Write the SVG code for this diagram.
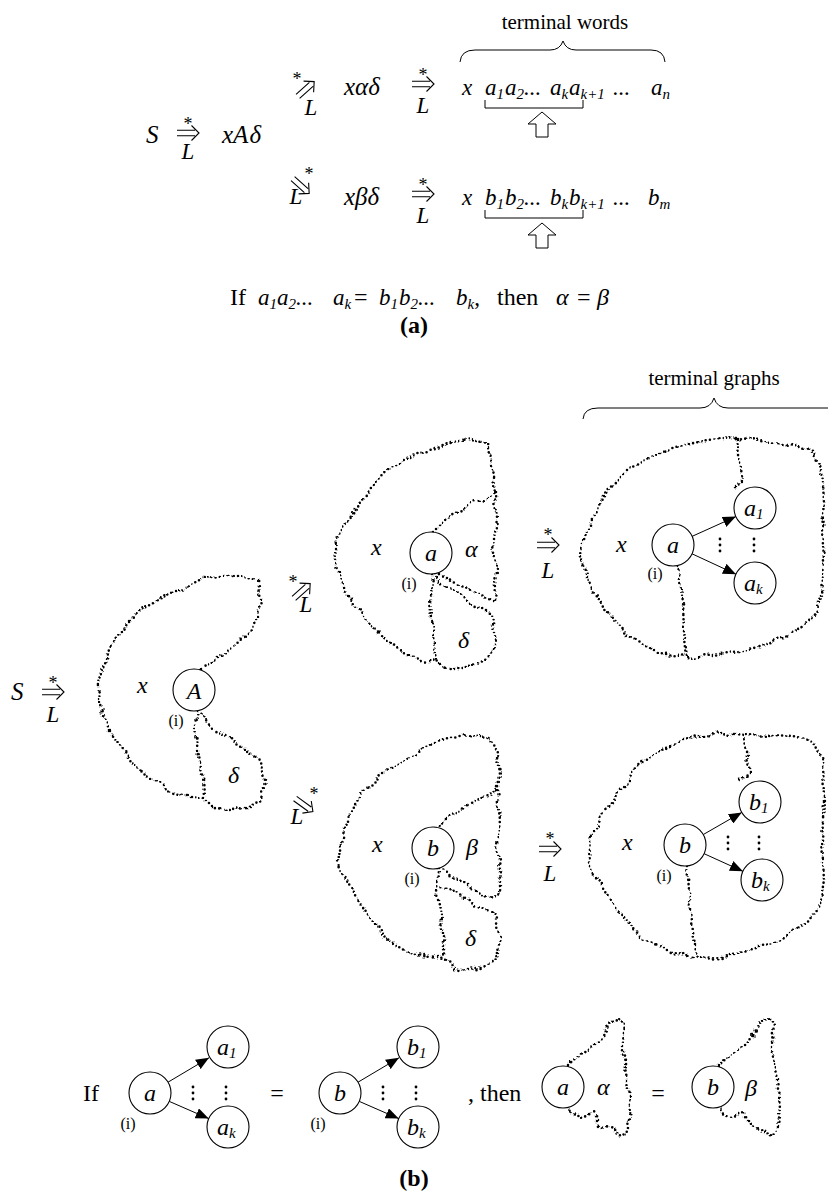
<svg xmlns="http://www.w3.org/2000/svg" xmlns:xlink="http://www.w3.org/1999/xlink" width="828" height="1193" viewBox="0 0 828 1193">
<style>
.m{font-family:"Liberation Serif",serif;font-size:23px;font-style:italic;fill:#000}
.mb{font-family:"Liberation Serif",serif;font-size:25px;font-style:italic;fill:#000}
.n{font-family:"Liberation Serif",serif;font-size:24px;font-style:italic;fill:#000}
.r{font-family:"Liberation Serif",serif;font-size:24px;fill:#000}
.s{font-size:15px}
.lb{font-family:"Liberation Serif",serif;font-size:21px;fill:#000}
.ii{font-family:"Liberation Serif",serif;font-size:16px;fill:#000;text-anchor:middle}
.st{font-family:"Liberation Serif",serif;font-size:18px;fill:#000;text-anchor:middle}
.L{font-family:"Liberation Serif",serif;font-size:23px;font-style:italic;fill:#000;text-anchor:middle}
.c{text-anchor:middle}
.bf{font-family:"Liberation Serif",serif;font-size:24px;font-weight:bold;fill:#000;text-anchor:middle}
.ln{fill:none;stroke:#000;stroke-width:1}
.dot{fill:none;stroke:#000;stroke-width:2.6;stroke-linecap:round;stroke-linejoin:round;stroke-dasharray:0 4.3}
.nd circle{fill:#fff;stroke:#000;stroke-width:1.1}
.ed{fill:none;stroke:#000;stroke-width:1;marker-end:url(#ah)}
.vd{fill:#000}
</style>
<defs>
<marker id="ah" viewBox="0 0 12 10" refX="12" refY="5" markerWidth="13" markerHeight="11" orient="auto" markerUnits="userSpaceOnUse"><path d="M0,0 L12,5 L0,10 Z" fill="#000"/></marker>
<g id="dar"><path d="M-11,-2.7 H7 M-11,2.7 H7 M3.5,-7.5 L11,0 L3.5,7.5" fill="none" stroke="#000" stroke-width="1.1"/></g>
<path id="hol" d="M0,0 L14,12 L6,12 L6,25 L-6,25 L-6,12 L-14,12 Z" fill="#fff" stroke="#000" stroke-width="1"/>
<filter id="wob" x="-10%" y="-10%" width="120%" height="120%">
<feTurbulence type="fractalNoise" baseFrequency="0.09" numOctaves="1" seed="5" result="n"/>
<feDisplacementMap in="SourceGraphic" in2="n" scale="8.5" xChannelSelector="R" yChannelSelector="G"/>
</filter>
</defs>
<rect width="828" height="1193" fill="#fff"/>

<g id="part-a">
<text class="lb c" x="565" y="29">terminal words</text>
<path class="ln" d="M460,62 Q461,50 475,50 L550,50 Q560,50 563,41 Q566,50 576,50 L651,50 Q664,50 665,62"/>
<text class="mb" x="146" y="143">S</text>
<use xlink:href="#dar" transform="translate(188,133)"/>
<text class="st" x="188" y="130">*</text>
<text class="L" x="188" y="159">L</text>
<text class="mb" x="222" y="143">xA<tspan dx="1">δ</tspan></text>

<use xlink:href="#dar" transform="translate(306,89) rotate(-42)"/>
<text class="st" x="297" y="85">*</text>
<text class="L" x="311" y="115">L</text>
<text class="mb" x="344" y="95">xαδ</text>
<use xlink:href="#dar" transform="translate(423,84)"/>
<text class="st" x="423" y="81">*</text>
<text class="L" x="423" y="113">L</text>
<text class="m" y="95"><tspan x="462">x</tspan><tspan x="485">a</tspan><tspan class="s" dy="4">1</tspan><tspan x="505" dy="-4">a</tspan><tspan class="s" dy="4">2</tspan><tspan x="524" dy="-4">...</tspan><tspan x="550">a</tspan><tspan class="s" dy="4">k</tspan><tspan x="569" dy="-4">a</tspan><tspan class="s" dy="4">k+1</tspan><tspan x="613" dy="-4">...</tspan><tspan x="651">a</tspan><tspan class="s" dy="4">n</tspan></text>
<path class="ln" d="M485,100 V108 H583 V100"/>
<use xlink:href="#hol" x="542" y="112"/>

<use xlink:href="#dar" transform="translate(301,186) rotate(42)"/>
<text class="st" x="309" y="180">*</text>
<text class="L" x="296" y="204">L</text>
<text class="mb" x="344" y="205">xβδ</text>
<use xlink:href="#dar" transform="translate(423,194)"/>
<text class="st" x="423" y="191">*</text>
<text class="L" x="423" y="223">L</text>
<text class="m" y="205"><tspan x="462">x</tspan><tspan x="485">b</tspan><tspan class="s" dy="4">1</tspan><tspan x="505" dy="-4">b</tspan><tspan class="s" dy="4">2</tspan><tspan x="524" dy="-4">...</tspan><tspan x="550">b</tspan><tspan class="s" dy="4">k</tspan><tspan x="569" dy="-4">b</tspan><tspan class="s" dy="4">k+1</tspan><tspan x="613" dy="-4">...</tspan><tspan x="648">b</tspan><tspan class="s" dy="4">m</tspan></text>
<path class="ln" d="M485,210 V218 H583 V210"/>
<use xlink:href="#hol" x="542" y="223"/>

<text class="r" x="230" y="305">If</text>
<text class="m" y="305"><tspan x="258">a</tspan><tspan class="s" dy="4">1</tspan><tspan x="277" dy="-4">a</tspan><tspan class="s" dy="4">2</tspan><tspan x="296" dy="-4">...</tspan><tspan x="333">a</tspan><tspan class="s" dy="4">k</tspan></text>
<text class="r" x="354" y="305">=</text>
<text class="m" y="305"><tspan x="379">b</tspan><tspan class="s" dy="4">1</tspan><tspan x="399" dy="-4">b</tspan><tspan class="s" dy="4">2</tspan><tspan x="418" dy="-4">...</tspan><tspan x="456">b</tspan><tspan class="s" dy="4">k</tspan><tspan dy="-4" style="font-style:normal">,</tspan></text>
<text class="r" x="497" y="305">then</text>
<text class="n" x="556" y="305">α</text>
<text class="r" x="577" y="305">=</text>
<text class="n" x="597" y="305">β</text>
<text class="bf" x="414" y="333">(a)</text>
</g>

<g id="labels-b">
<text class="lb c" x="714" y="385">terminal graphs</text>
<path class="ln" d="M583,419 Q584,408 598,408 L700,408 Q711,408 714,398 Q717,408 728,408 L830,408"/>
<text class="mb" x="11" y="700">S</text>
<use xlink:href="#dar" transform="translate(53,692)"/>
<text class="st" x="53" y="689">*</text>
<text class="L" x="53" y="722">L</text>
<use xlink:href="#dar" transform="translate(302,591) rotate(-42)"/>
<text class="st" x="293" y="588">*</text>
<text class="L" x="306" y="612">L</text>
<use xlink:href="#dar" transform="translate(304,805) rotate(36)"/>
<text class="st" x="314" y="800">*</text>
<text class="L" x="297" y="824">L</text>
<use xlink:href="#dar" transform="translate(548,545)"/>
<text class="st" x="548" y="541">*</text>
<text class="L" x="548" y="578">L</text>
<use xlink:href="#dar" transform="translate(550,849)"/>
<text class="st" x="550" y="845">*</text>
<text class="L" x="550" y="881">L</text>
<text class="n" x="137" y="693">x</text>
<text class="n" x="228" y="783">δ</text>
<text class="n" x="371" y="555">x</text>
<text class="n" x="465" y="557">α</text>
<text class="n" x="458" y="648">δ</text>
<text class="n" x="616" y="552">x</text>
<text class="n" x="372" y="852">x</text>
<text class="n" x="466" y="855">β</text>
<text class="n" x="465" y="946">δ</text>
<text class="n" x="622" y="850">x</text>
<text class="r" x="83" y="1101">If</text>
<text class="r c" x="277" y="1101">=</text>
<text class="r" x="468" y="1101">, then</text>
<text class="r c" x="658" y="1101">=</text>
<text class="n" x="597" y="1095">α</text>
<text class="n" x="745" y="1096">β</text>
<text class="bf" x="414" y="1186">(b)</text>
</g>

<g id="regions" filter="url(#wob)">
<path class="dot" d="M200,670 L215,660 L233,648 L250,632 L258,615 L260,598 L257,580 L240,576 L220,576 L203,578 L185,588 L165,597 L140,610 L125,628 L112,645 L100,670 L98,700 L105,722 L115,740 L130,760 L148,778 L170,792 L190,797 L203,798 L213,808 L230,809 L248,808 L262,800 L265,780 L258,760 L245,748 L228,738 L212,728 L198,712"/>
<path class="dot" d="M197,712 L194,730 L198,750 L202,775 L203,798"/>
<path class="dot" d="M433,532 L445,520 L460,510 L475,502 L490,497 L496,493 L493,470 L488,443 L470,440 L450,442 L430,450 L410,457 L390,468 L370,490 L352,515 L338,535 L334,560 L342,585 L357,607 L375,630 L398,650 L420,660 L437,662 L445,668 L462,668 L480,663 L494,652 L494,633 L492,614 L480,608 L466,600 L452,590 L440,583 L434,575"/>
<path class="dot" d="M496,493 L497,520 L493,547 L497,570 L495,602 L480,595 L467,588 L452,580 L436,574"/>
<path class="dot" d="M433,575 L431,595 L432,620 L435,645 L437,662"/>
<path class="dot" d="M435,827 L457,813 L477,800 L497,792 L500,775 L498,755 L490,737 L470,735 L450,737 L430,745 L413,757 L395,765 L380,775 L365,790 L352,810 L342,837 L338,863 L350,887 L367,913 L383,937 L410,953 L443,958 L457,970 L477,968 L497,960 L500,937 L493,913 L477,905 L457,893 L438,886"/>
<path class="dot" d="M497,792 L500,820 L497,845 L500,870 L500,893 L483,897 L470,887 L457,880 L440,869"/>
<path class="dot" d="M438,869 L437,893 L443,927 L443,958"/>
<path class="dot" d="M587,577 L580,553 L588,528 L600,503 L612,485 L627,470 L645,460 L660,453 L685,445 L707,440 L737,438 L760,440 L777,443 L800,447 L815,455 L822,470 L824,500 L822,530 L824,560 L822,595 L813,617 L793,633 L760,647 L727,653 L693,658 L660,653 L627,637 L603,607 Z"/>
<path class="dot" d="M678,566 L683,603 L684,630 L687,658"/>
<path class="dot" d="M737,438 L740,463 L742,477 L733,490"/>
<path class="dot" d="M597,877 L588,863 L592,835 L603,815 L613,803 L625,783 L640,763 L660,750 L683,740 L720,733 L747,735 L793,737 L815,743 L823,760 L824,800 L822,840 L824,880 L820,905 L807,923 L773,943 L723,957 L697,958 L673,953 L640,937 L617,910 Z"/>
<path class="dot" d="M687,867 L690,900 L693,930 L697,958"/>
<path class="dot" d="M743,735 L747,757 L750,773 L737,783"/>
<path class="dot" d="M568,1066 L580,1055 L595,1045 L605,1033 L610,1022 L618,1017 L625,1025 L623,1040 L623,1057 L627,1080 L630,1107 L628,1127 L622,1137 L613,1130 L600,1127 L593,1113 L580,1117 L568,1108"/>
<path class="dot" d="M718,1066 L730,1055 L745,1045 L755,1033 L760,1022 L768,1017 L775,1025 L773,1040 L773,1057 L777,1080 L780,1107 L778,1127 L772,1137 L763,1130 L750,1127 L743,1113 L730,1117 L718,1108"/>
</g>

<g id="edges">
<path class="ed" d="M692,536.4 L735.9,516.6"/>
<path class="ed" d="M692,553.8 L736,574.2"/>
<path class="ed" d="M703.2,834.6 L741.8,812.4"/>
<path class="ed" d="M704.1,853.7 L742.9,871.3"/>
<path class="ed" d="M168,1082.2 L209,1057.8"/>
<path class="ed" d="M169.3,1101.4 L208.7,1118.6"/>
<path class="ed" d="M358,1082.2 L399,1057.8"/>
<path class="ed" d="M359.3,1101.4 L398.7,1118.6"/>
</g>

<g id="vdots" class="vd">
<circle cx="720" cy="539" r="1.4"/><circle cx="720" cy="545" r="1.4"/><circle cx="720" cy="551" r="1.4"/>
<circle cx="754" cy="539" r="1.4"/><circle cx="754" cy="545" r="1.4"/><circle cx="754" cy="551" r="1.4"/>
<circle cx="728" cy="837" r="1.4"/><circle cx="728" cy="843" r="1.4"/><circle cx="728" cy="849" r="1.4"/>
<circle cx="759" cy="837" r="1.4"/><circle cx="759" cy="843" r="1.4"/><circle cx="759" cy="849" r="1.4"/>
<circle cx="193" cy="1087" r="1.4"/><circle cx="193" cy="1093" r="1.4"/><circle cx="193" cy="1099" r="1.4"/>
<circle cx="226" cy="1087" r="1.4"/><circle cx="226" cy="1093" r="1.4"/><circle cx="226" cy="1099" r="1.4"/>
<circle cx="383" cy="1087" r="1.4"/><circle cx="383" cy="1093" r="1.4"/><circle cx="383" cy="1099" r="1.4"/>
<circle cx="416" cy="1087" r="1.4"/><circle cx="416" cy="1093" r="1.4"/><circle cx="416" cy="1099" r="1.4"/>
</g>

<g id="node-A" class="nd"><circle cx="194" cy="690" r="21"/><text class="n c" x="194" y="699">A</text><text class="ii" x="176" y="726">(i)</text></g>
<g id="node-a-top" class="nd"><circle cx="431" cy="553" r="21"/><text class="n c" x="431" y="561">a</text><text class="ii" x="409" y="589">(i)</text></g>
<g id="node-b-mid" class="nd"><circle cx="433" cy="848" r="21"/><text class="n c" x="433" y="856">b</text><text class="ii" x="412" y="884">(i)</text></g>
<g id="node-a-right" class="nd"><circle cx="673" cy="545" r="21"/><text class="n c" x="673" y="553">a</text><text class="ii" x="655" y="579">(i)</text></g>
<g id="node-a1-right" class="nd"><circle cx="755" cy="508" r="21"/><text class="n" x="744" y="516">a<tspan class="s" dy="3">1</tspan></text></g>
<g id="node-ak-right" class="nd"><circle cx="755" cy="583" r="21"/><text class="n" x="744" y="591">a<tspan class="s" dy="3">k</tspan></text></g>
<g id="node-b-right" class="nd"><circle cx="685" cy="845" r="21"/><text class="n c" x="685" y="853">b</text><text class="ii" x="664" y="881">(i)</text></g>
<g id="node-b1-right" class="nd"><circle cx="760" cy="802" r="21"/><text class="n" x="749" y="810">b<tspan class="s" dy="3">1</tspan></text></g>
<g id="node-bk-right" class="nd"><circle cx="762" cy="880" r="21"/><text class="n" x="751" y="888">b<tspan class="s" dy="3">k</tspan></text></g>
<g id="node-a-bot" class="nd"><circle cx="150" cy="1093" r="21"/><text class="n c" x="150" y="1101">a</text><text class="ii" x="128" y="1129">(i)</text></g>
<g id="node-a1-bot" class="nd"><circle cx="228" cy="1047" r="21"/><text class="n" x="217" y="1055">a<tspan class="s" dy="3">1</tspan></text></g>
<g id="node-ak-bot" class="nd"><circle cx="228" cy="1127" r="21"/><text class="n" x="217" y="1135">a<tspan class="s" dy="3">k</tspan></text></g>
<g id="node-b-bot" class="nd"><circle cx="340" cy="1093" r="21"/><text class="n c" x="340" y="1101">b</text><text class="ii" x="318" y="1129">(i)</text></g>
<g id="node-b1-bot" class="nd"><circle cx="418" cy="1047" r="21"/><text class="n" x="407" y="1055">b<tspan class="s" dy="3">1</tspan></text></g>
<g id="node-bk-bot" class="nd"><circle cx="418" cy="1127" r="21"/><text class="n" x="407" y="1135">b<tspan class="s" dy="3">k</tspan></text></g>
<g id="node-a-alpha" class="nd"><circle cx="563" cy="1087" r="21"/><text class="n c" x="563" y="1095">a</text></g>
<g id="node-b-beta" class="nd"><circle cx="713" cy="1087" r="21"/><text class="n c" x="713" y="1095">b</text></g>
</svg>
